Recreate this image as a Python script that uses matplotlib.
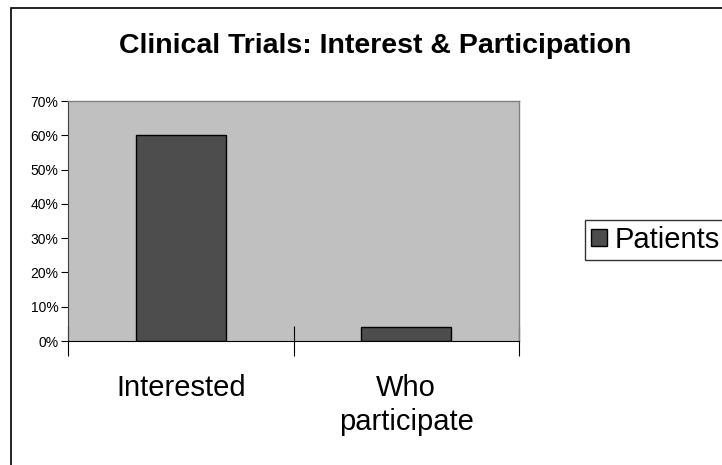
import matplotlib
matplotlib.use("Agg")
import matplotlib.pyplot as plt
from matplotlib.patches import Rectangle
from matplotlib.ticker import FixedLocator

categories = ["Interested", "Who\nparticipate"]
patients = [0.60, 0.04]
yticks = [0.0, 0.1, 0.2, 0.3, 0.4, 0.5, 0.6, 0.7]
ytick_labels = ["0%", "10%", "20%", "30%", "40%", "50%", "60%", "70%"]
series_name = "Patients"
title = "Clinical Trials: Interest & Participation"

plt.rcParams["font.family"] = ["Liberation Sans", "DejaVu Sans"]

fig = plt.figure(figsize=(7.22, 4.65), dpi=100)
fig.patch.set_facecolor("white")
# outer chart frame (clipped at right/bottom as in reference)
fig.add_artist(Rectangle((11 / 722, -0.05), 1.2, (465 - 8) / 465 + 0.05,
                         transform=fig.transFigure, fill=False,
                         edgecolor="black", linewidth=1.2))

ax = fig.add_axes([68 / 722, 124 / 465, 451 / 722, 240 / 465])
ax.set_facecolor("#c0c0c0")
x = list(range(len(categories)))
ax.bar(x, patients, width=0.4, color="#4d4d4d", edgecolor="black",
       linewidth=1.0, label=series_name, zorder=3)
ax.set_xlim(-0.5, len(categories) - 0.5)
ax.set_ylim(0, 0.7)
ax.set_yticks(yticks)
ax.set_yticklabels(ytick_labels, fontsize=10)
ax.tick_params(axis="y", direction="out", length=5, width=0.8, pad=2, color="black")

# category boundary ticks crossing the axis
ax.xaxis.set_major_locator(FixedLocator([-0.5, 0.5, 1.5]))
ax.xaxis.set_minor_locator(FixedLocator(x))
ax.xaxis.set_major_formatter(plt.NullFormatter())
ax.set_xticklabels(categories, minor=True, fontsize=21, linespacing=1.25)
ax.tick_params(axis="x", which="major", direction="inout", length=22, width=0.8, color="black")
ax.tick_params(axis="x", which="minor", length=0, pad=24)

for s in ["top", "right"]:
    ax.spines[s].set_color("#808080")
    ax.spines[s].set_linewidth(1.0)
ax.spines["left"].set_color("#404040")
ax.spines["bottom"].set_color("black")

fig.text(375 / 722, 1 - 46 / 465, title, ha="center", va="center",
         fontsize=20.5, fontweight="bold")

leg = ax.legend(loc="center left", bbox_to_anchor=(585 / 722, 1 - 240 / 465),
                bbox_transform=fig.transFigure, fontsize=21, frameon=True,
                fancybox=False, edgecolor="black", handlelength=0.55,
                handleheight=0.55, handletextpad=0.25, borderpad=0.22,
                borderaxespad=0)
leg.get_frame().set_linewidth(1.0)

fig.savefig("out.png", dpi=100)
